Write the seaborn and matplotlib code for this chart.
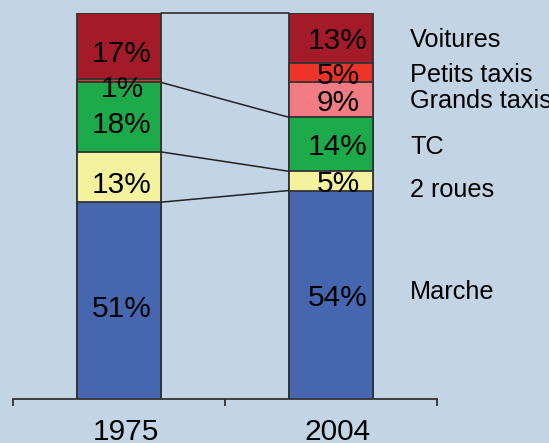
import numpy as np
import pandas as pd
import matplotlib
matplotlib.use("Agg")
import matplotlib.pyplot as plt
import matplotlib.transforms as mtransforms
import seaborn as sns

sns.set_style("white")
plt.rcParams["font.family"] = ["Liberation Sans", "DejaVu Sans"]

# --- data (bottom -> top) ---
years = ["1975", "2004"]
modes = ["Marche", "2 roues", "TC", "Grands taxis", "Petits taxis", "Voitures"]
share_1975 = [51, 13, 18, 0, 1, 17]
share_2004 = [54, 5, 14, 9, 5, 13]
colors = ["#4666b0", "#f5f29f", "#1daa4b", "#f27c84", "#ee3429", "#a31b28"]
linked = ["Marche", "2 roues", "TC", "Voitures"]  # boundaries joined between bars

bg = "#c3d4e4"
edge = "#333333"
bar_w = 0.40

# small hand nudges of the text (points, as in the original slide)
pct_nudge = [(2.2, -3.6), (5.0, 0.0)]           # per year (dx, dy)
name_nudge = [3.6, -4.7, 0.0, 0.7, 0.0, 0.7]     # per mode, dy

shares = np.array([share_1975, share_2004], dtype=float)
cum = shares.cumsum(axis=1)

fig = plt.figure(figsize=(5.49, 4.43), dpi=100, facecolor=bg)
ax = fig.add_axes([13 / 549, 44 / 443, 424 / 549, 386 / 443])
ax.set_facecolor(bg)

# stacked bars: draw cumulative totals from the top down
for j in range(len(modes) - 1, -1, -1):
    df = pd.DataFrame({"year": years, "value": cum[:, j]})
    sns.barplot(data=df, x="year", y="value", color=colors[j], width=bar_w,
                saturation=1, edgecolor=edge, linewidth=1.3, ax=ax, zorder=3)

# percentage labels
for i in range(len(years)):
    for j, m in enumerate(modes):
        v = shares[i, j]
        if v <= 0:
            continue
        y = cum[i, j] - v / 2
        ax.annotate(f"{int(v)}%", (i, y), xytext=pct_nudge[i],
                    textcoords="offset points", ha="center",
                    va="center_baseline", fontsize=21.5, color="black",
                    zorder=5)

# connecting lines between the two bars
for m in linked:
    j = modes.index(m)
    ax.plot([0 + bar_w / 2, 1 - bar_w / 2], [cum[0, j], cum[1, j]],
            color="#222222", lw=1.1, zorder=4, clip_on=False)

# mode names on the right
for j, m in enumerate(modes):
    y = cum[1, j] - shares[1, j] / 2
    ax.annotate(m, (1.373, y), xytext=(0, name_nudge[j]),
                textcoords="offset points", ha="left", va="center_baseline",
                fontsize=18.2, color="black", annotation_clip=False)

ax.set_xlim(-0.5, 1.5)
ax.set_ylim(0, 100)
ax.set_xlabel("")
ax.set_ylabel("")
ax.set_yticks([])
for s in ["left", "right", "top"]:
    ax.spines[s].set_visible(False)
ax.spines["bottom"].set_color(edge)
ax.spines["bottom"].set_linewidth(1.3)
ax.set_xticks([0, 1])
ax.set_xticklabels(years, fontsize=21.5, color="black")
ax.set_xticks([-0.5, 0.5, 1.5], minor=True)
ax.tick_params(axis="x", which="major", length=0, pad=13.5)
ax.tick_params(axis="x", which="minor", length=5, width=1.3, color=edge,
               direction="out", bottom=True)
shift = mtransforms.ScaledTranslation(6.5 / 100, 0, fig.dpi_scale_trans)
for lab in ax.get_xticklabels():
    lab.set_transform(lab.get_transform() + shift)

fig.savefig("out.png", dpi=100, facecolor=bg)
